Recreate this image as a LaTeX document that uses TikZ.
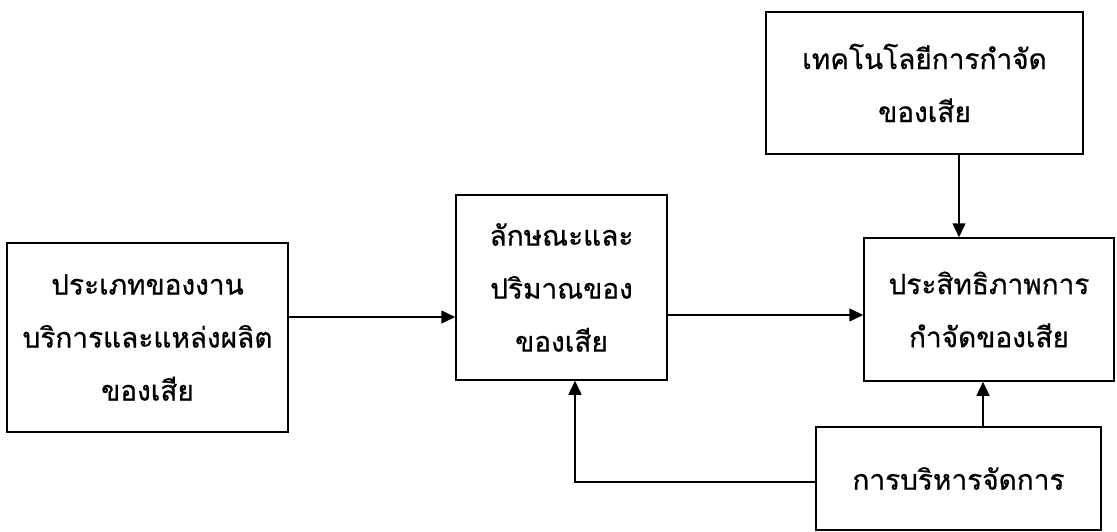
\documentclass[tikz,border=0pt]{standalone}
\usepackage{fontspec}
\newfontfamily\thaifont[Script=Thai,FakeBold=0.7]{Loma}
\usetikzlibrary{arrows.meta}
\begin{document}
\begin{tikzpicture}[x=1pt,y=1pt,
  box/.style={draw, line width=1.5pt, align=center, inner sep=0pt,
    font={\thaifont\fontsize{28}{53}\selectfont}},
  arr/.style={line width=1.5pt, -{Triangle[length=14pt,width=13pt]}}]
\useasboundingbox (0,0) rectangle (1117,-532);
\node[box, minimum width=281pt, minimum height=189pt] (A) at (147.5,-337.5)
  {ประเภทของงาน\\บริการและแหล่งผลิต\\ของเสีย};
\node[box, minimum width=211pt, minimum height=185pt] (B) at (561.5,-287.5)
  {ลักษณะและ\\ปริมาณของ\\ของเสีย};
\node[box, minimum width=317pt, minimum height=142pt] (C) at (924.5,-83)
  {เทคโนโลยีการกำจัด\\ของเสีย};
\node[box, minimum width=250pt, minimum height=143pt] (D) at (989,-309.5)
  {ประสิทธิภาพการ\\กำจัดของเสีย};
\node[box, minimum width=285pt, minimum height=103pt] (E) at (958.5,-478.5)
  {การบริหารจัดการ};
\draw[arr] (A.east|-0,-317) -- (B.west|-0,-317);
\draw[arr] (B.east|-0,-315) -- (D.west|-0,-315);
\draw[arr] (C.south-|959,0) -- (D.north-|959,0);
\draw[arr] (E.north-|983,0) -- (D.south-|983,0);
\draw[arr] (E.west|-0,-482) -| (B.south-|575,0);
\end{tikzpicture}
\end{document}
